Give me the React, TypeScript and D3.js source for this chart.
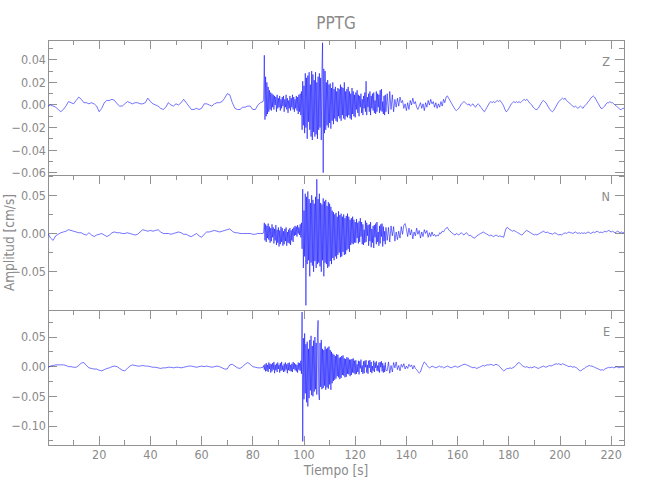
import React from 'react';
import * as d3 from 'd3';

// Amplitudes in units of 0.001 cm/s
const UNIT = 0.001;

// sampling of the three segments (seconds)
const PRE_START = 0, PRE_STEP = 1;
const EVT_START = 84.25, EVT_STEP = 0.25;
const CODA_START = 132.5, CODA_STEP = 0.5;

const zPre = [
  -1, 0, -1, -2, -4, -6, -4, -1, 3, 2,
  1, 4, 7, 5, 2, 2, 1, 2, 1, -1,
  -6, -3, 2, 4, 4, 5, 4, 1, -1, -1,
  1, 3, 2, 1, 2, 2, 1, 1, 2, 6,
  3, 1, 0, -1, -3, -4, -2, 2, 0, -1,
  1, 0, 2, 5, 2, -1, -4, -4, -3, -4,
  -3, 1, 1, 0, -1, 1, 2, 2, 3, 6,
  10, 9, 2, -3, -4, -4, -2, -2, -1, -1,
  -4, -4, 0, 2, 3,
];
const zEvt = [
  5, 44, -13, 25, -10, 20, -8, 16, -6, 13, -4, 11, -5, 10, -2, 9,
  -4, 8, 0, 7, -6, 9, -3, 6, -2, 8, -5, 5, -3, 7, -1, 8,
  -6, 5, -2, 9, -4, 6, -7, 4, -3, 8, -5, 6, -2, 9, -4, 7,
  -6, 5, -3, 8, -5, 7, -8, 9, -6, 10, -9, 12, -22, 21, -18, 17,
  -25, 28, -20, 24, -30, 26, -15, 29, -22, 18, -28, 30, -31, 27, -24, 22,
  -28, 29, -26, 20, -30, 25, -22, 28, -20, 24, -31, 30, 55, -60, 32, -25,
  30, -22, 20, -18, 22, -20, 18, -16, 19, -21, 15, -14, 20, -17, 14, -12,
  16, -14, 12, -15, 15, -10, 14, -12, 18, -14, 16, -9, 15, -12, 20, -13,
  12, -10, 14, -11, 16, -9, 12, -12, 10, -13, 15, -8, 12, -10, 9, -11,
  11, -4, 13, -7, 9, -10, 8, -2, 10, -7, 5, -9, 8, -3, 11, -6,
  21, -9, 7, -2, 10, -6, 12, -9, 8, -3, 10, -5, 11, -7, 4, -8,
  12, -6, 10, -2, 9, -7, 13, -5, 14, -6, 3, -8, 8, -9, 9, -6,
];
const zCoda = [
  10, -8, 12, -4, 9, -6, 5, -2,
  6, -1, 7, 2, 4, -3, 1, -5,
  2, -4, 4, 0, 6, 1, 3, -2,
  -4, -1, 2, -3, 1, -5, 2, -2,
  4, 0, 5, 1, 3, -2, 2, -3,
  1, -2, 3, -1, 5, 2, 7, 8,
  6, 4, 2, 0, -2, -4, -5, -4,
  -3, -1, 1, 2, 3, 2, 1, 0,
  1, -1, 0, 1, -1, -2, 0, 1,
  0, -2, -3, -5, -6, -4, -2, 0,
  2, 3, 2, 3, 2, 3, 4, 3,
  4, 3, 1, -1, -4, -6, -5, -3,
  -1, 1, 2, 3, 2, 3, 2, 3,
  2, 3, 4, 5, 4, 5, 4, 2,
  1, 0, -2, -3, -4, -4, -3, -1,
  1, 3, 4, 3, 2, 0, -2, -4,
  -5, -6, -5, -3, -1, 1, 3, 4,
  5, 6, 5, 6, 4, 3, 2, 1,
  0, -1, -2, -1, -2, -3, -2, -1,
  -2, -3, -1, 0, 1, 3, 4, 6,
  7, 8, 7, 5, 3, 1, -1, -3,
  -3, -2, -1, 1, 2, 2, 3, 2,
  2, 1, 0, -1, -2, -3, -4, -4,
  -3, -3,
];

const nPre = [
  0, -6, -9, -3, -1, 1, 2, 3, 5, 4,
  3, 2, 1, 1, -1, -2, 1, -2, -4, -2,
  -1, 0, -2, -4, -2, 1, 2, 1, 1, 0,
  0, 1, 0, -1, -2, -1, 2, 5, 4, 3,
  4, 3, 4, 5, 2, 0, 0, 0, -1, 0,
  1, 2, 1, -1, -1, -3, -4, -2, 0, -3,
  -5, -1, 2, 2, 3, 4, 3, 2, 3, 4,
  5, 6, 3, 1, 1, 0, 0, 0, 0, 0,
  -1, -1, 0, 0, 0,
];
const nEvt = [
  2, 14, -9, 12, -11, 10, -6, 13, -8, 9, -12, 7, -10, 12, -5, 8,
  -13, 6, -9, 11, -15, 5, -12, 8, -17, 4, -14, 9, -11, 7, -16, 3,
  -14, 6, -10, 8, -16, 2, -12, 5, -13, 7, -15, 4, -9, 6, -11, 8,
  -3, 10, -2, 9, -4, 11, 0, 8, -2, 12, -5, 14, -20, 58, -45, 30,
  -30, 52, -94, 48, -40, 55, -35, 45, -56, 40, -38, 50, -42, 44, -50, 39,
  -36, 48, -45, 71, -40, 45, -38, 52, -43, 40, -50, 38, -35, 46, -56, 42,
  -38, 44, -40, 36, -45, 41, -43, 39, -36, 35, -40, 30, -32, 28, -35, 25,
  -30, 27, -33, 22, -28, 29, -25, 24, -31, 26, -30, 22, -24, 25, -28, 20,
  -27, 23, -22, 26, -20, 22, -24, 18, -15, 20, -13, 22, -14, 18, -12, 15,
  -12, 19, -6, 14, -13, 16, -11, 20, -4, 15, -14, 12, -15, 5, -12, 17,
  -11, 14, -3, 11, -16, 12, -10, 15, -18, 6, -12, 10, -19, 11, -5, 13,
  -14, 15, -11, 2, -16, 10, -13, 12, -4, 13, -17, 9, -10, 3, -14, 8,
];
const nCoda = [
  -9, 8, -11, 10, -3, 9, -10, 2,
  -8, 3, -6, 9, -1, 11, 13, 6,
  -4, 7, -2, 5, -7, 2, -3, 7,
  -1, 4, -6, 2, -4, 5, 0, 4,
  -5, 1, -4, 2, -3, -1, -4, -2,
  -3, 1, 0, 3, 2, 5, 7, 8,
  5, 3, 2, 0, -1, -2, 0, -1,
  -2, 0, 1, -1, -2, 0, 1, -1,
  -3, -2, -4, -5, -6, -5, -3, -2,
  -1, 0, 1, 2, 1, 0, -1, -2,
  -3, -2, -3, -4, -3, -2, -3, -4,
  -3, -4, -4, -5, 2, 7, 8, 6,
  5, 4, 3, 4, 3, 2, 1, 0,
  -1, -2, -1, 1, 3, 4, 3, 2,
  1, 0, -1, -2, -1, -2, -1, 0,
  1, 2, 3, 2, 1, 2, 1, 0,
  0, -1, 0, 1, 0, -1, -2, -1,
  -2, -1, 0, 1, 0, 1, 2, 1,
  1, 0, 1, 2, 1, 0, 1, 0,
  1, 0, 1, 0, 1, 2, 1, 0,
  1, 2, 1, 2, 3, 2, 1, 2,
  1, 2, 3, 2, 3, 4, 3, 2,
  3, 2, 1, 2, 3, 2, 1, 2,
  1, 1,
];

const ePre = [
  -1, 1, 2, 3, 3, 3, 3, 2, 0, 0,
  -1, -1, 2, 6, 7, 2, -2, -3, -4, -4,
  -6, -7, -5, -3, -2, 0, 1, 0, -3, -6,
  -7, -3, 1, 3, 2, 1, 1, 2, 1, 1,
  0, -1, -1, -2, -3, -2, -2, -1, -1, -2,
  -1, -1, -2, -1, 0, 1, 1, 0, -1, 0,
  1, 0, 1, 0, -1, 0, 1, 0, -2, -4,
  -4, 3, 4, 1, -2, -3, 0, 4, 7, 4,
  0, -1, -2, -2, -1,
];
const eEvt = [
  2, -5, 4, -8, 6, -7, 3, -9, 7, -4, 5, -10, 4, -8, 6, -5,
  8, -11, 3, -6, 5, -9, 7, -4, 3, -10, 6, -7, 8, -6, 2, -9,
  5, -8, 7, -5, 4, -11, 6, -6, 7, -7, 3, -8, 5, -9, 8, -4,
  6, -6, 4, -8, 3, -10, 7, -5, 6, -7, 10, -12, 92, -126, 48, -55,
  56, -45, 38, -60, 42, -67, 30, -53, 45, -40, 52, -48, 35, -50, 44, -42,
  50, -38, 40, -47, 55, 78, -44, -56, 40, -34, 45, -38, 30, -36, 28, -32,
  34, -39, 30, -35, 32, -37, 34, -30, 28, -39, 25, -28, 22, -24, 20, -22,
  18, -20, 21, -16, 20, -18, 15, -21, 16, -19, 18, -14, 19, -15, 14, -18,
  13, -17, 16, -12, 15, -13, 12, -16, 12, -14, 13, -10, 14, -11, 10, -13,
  11, -12, 4, -9, 10, -13, 9, -3, 12, -9, 2, -12, 9, -11, 10, -1,
  11, -10, 3, -12, 10, -2, 11, -9, 8, -11, 1, -7, 10, -9, 7, -2,
  9, -7, 2, -8, 7, -10, 8, -1, 9, -8, 6, -10, 2, -9, 7, -6,
];
const eCoda = [
  -7, 8, -11, 2, -9, 7, -2, 8,
  -5, 2, -7, 4, -1, 5, -4, 1,
  -3, 4, 0, 3, -4, 2, -3, -5,
  -8, -11, -9, -2, 4, 8, 6, 2,
  0, -2, -1, 1, 0, -1, -2, -1,
  0, 1, -1, 0, -2, -1, 0, 1,
  0, -1, -2, -1, 0, 1, 0, -1,
  0, 1, 2, 3, 4, 4, 3, 2,
  1, 0, -1, -2, -1, -2, -3, -2,
  -1, 0, 1, 2, 1, 2, 3, 3,
  3, 4, 3, 2, 3, 4, 3, 2,
  0, -3, -5, -7, -6, -4, -3, -3,
  -2, -3, -2, -1, 1, 3, 6, 7,
  5, 3, 1, 0, -1, 0, -1, -2,
  -1, -2, -1, 0, -1, -2, -3, -2,
  -1, 0, 1, 0, -1, 0, 1, 2,
  1, 2, 3, 4, 5, 4, 5, 4,
  3, 5, 4, 3, 2, 1, 0, 1,
  0, -1, 0, -1, -2, -4, -6, -7,
  -6, -4, -3, -1, 0, 1, 2, 1,
  1, 0, -1, -2, -3, -4, -5, -6,
  -5, -6, -4, -3, -2, -1, -2, -1,
  -1, -2, -1, 0, -1, -2, -1, -1,
  -1, -1,
];

// axis ranges and ticks (cm/s)
const X_DOMAIN = [0, 225];
const X_TICKS = [10, 20, 30, 40, 50, 60, 70, 80, 90, 100, 110, 120, 130, 140, 150, 160, 170, 180, 190, 200, 210, 220];
const X_LABELS = [20, 40, 60, 80, 100, 120, 140, 160, 180, 200, 220];

const zDomain = [-0.062, 0.0575];
const zMajor = [-0.06, -0.04, -0.02, 0, 0.02, 0.04];
const zMinor = [-0.05, -0.03, -0.01, 0.01, 0.03, 0.05];
const nDomain = [-0.1, 0.0765];
const nMajor = [-0.05, 0, 0.05];
const nMinor = [-0.075, -0.025, 0.025, 0.075];
const eDomain = [-0.132, 0.0955];
const eMajor = [-0.1, -0.05, 0, 0.05];
const eMinor = [-0.125, -0.075, -0.025, 0.025, 0.075];

const TITLE = 'PPTG';
const Y_TITLE = 'Amplitud [cm/s]';
const X_TITLE = 'Tiempo [s]';

function build(pre: number[], evt: number[], coda: number[]): [number, number][] {
  const out: [number, number][] = [];
  pre.forEach((v, i) => out.push([PRE_START + i * PRE_STEP, v * UNIT]));
  evt.forEach((v, i) => out.push([EVT_START + i * EVT_STEP, v * UNIT]));
  coda.forEach((v, i) => out.push([CODA_START + i * CODA_STEP, v * UNIT]));
  return out;
}

const FONT = "'Liberation Sans Narrow', 'DejaVu Sans Condensed', 'Arial Narrow', sans-serif";
const TEXT = '#8a8a8a';
const AXIS = '#929292';
const LEFT = 48, RIGHT = 624, TOP = 40, PH = 135;

const x = d3.scaleLinear().domain(X_DOMAIN).range([LEFT, RIGHT]);
const fmt = d3.format('.2f');

type PanelProps = {
  idx: number;
  data: [number, number][];
  domain: number[];
  major: number[];
  minor: number[];
  label: string;
  last: boolean;
};

function Panel({ idx, data, domain, major, minor, label, last }: PanelProps) {
  const top = TOP + idx * PH;
  const y = d3.scaleLinear().domain(domain).range([top + PH, top]);
  const line = d3.line<[number, number]>().x(d => x(d[0])).y(d => y(d[1]));
  const cid = `clip${idx}`;
  return (
    <g>
      <clipPath id={cid}>
        <rect x={LEFT} y={top} width={RIGHT - LEFT} height={PH} />
      </clipPath>
      <rect x={LEFT} y={top} width={RIGHT - LEFT} height={PH} fill="none" stroke={AXIS} strokeWidth={1} shapeRendering="crispEdges" />
      {major.map(v => (
        <g key={'M' + v}>
          <line x1={LEFT} x2={LEFT + 9} y1={y(v)} y2={y(v)} stroke={AXIS} shapeRendering="crispEdges" />
          <line x1={RIGHT - 9} x2={RIGHT} y1={y(v)} y2={y(v)} stroke={AXIS} shapeRendering="crispEdges" />
          <text x={LEFT - 2} y={y(v)} dy="0.35em" textAnchor="end" fontFamily={FONT} fontSize={12.5} fill={TEXT}>{fmt(v)}</text>
        </g>
      ))}
      {minor.map(v => (
        <g key={'m' + v}>
          <line x1={LEFT} x2={LEFT + 5} y1={y(v)} y2={y(v)} stroke={AXIS} shapeRendering="crispEdges" />
          <line x1={RIGHT - 5} x2={RIGHT} y1={y(v)} y2={y(v)} stroke={AXIS} shapeRendering="crispEdges" />
        </g>
      ))}
      {X_TICKS.map(t => {
        const len = t % 20 === 0 ? 9 : 5;
        return (
          <g key={'x' + t}>
            <line x1={x(t)} x2={x(t)} y1={top} y2={top + len} stroke={AXIS} shapeRendering="crispEdges" />
            {last && <line x1={x(t)} x2={x(t)} y1={top + PH} y2={top + PH - len} stroke={AXIS} shapeRendering="crispEdges" />}
          </g>
        );
      })}
      <path d={line(data) || ''} fill="none" stroke="#0000ff" strokeWidth={0.55} clipPath={`url(#${cid})`} strokeLinejoin="round" />
      {last && X_LABELS.map(t => (
        <text key={'xl' + t} x={x(t)} y={top + PH + 14} textAnchor="middle" fontFamily={FONT} fontSize={12.5} fill={TEXT}>{t}</text>
      ))}
      <text x={610} y={top + 26} textAnchor="end" fontFamily={FONT} fontSize={12.5} fill={TEXT}>{label}</text>
    </g>
  );
}

export default function App() {
  const zData = build(zPre, zEvt, zCoda);
  const nData = build(nPre, nEvt, nCoda);
  const eData = build(ePre, eEvt, eCoda);
  return (
    <svg width={650} height={500} style={{ position: 'absolute', left: 0, top: 0, background: '#fff' }}>
      <rect x={0} y={0} width={650} height={500} fill="#fff" />
      <text x={(LEFT + RIGHT) / 2} y={29} textAnchor="middle" fontFamily={FONT} fontSize={17} fill={TEXT}>{TITLE}</text>
      <Panel idx={0} data={zData} domain={zDomain} major={zMajor} minor={zMinor} label="Z" last={false} />
      <Panel idx={1} data={nData} domain={nDomain} major={nMajor} minor={nMinor} label="N" last={false} />
      <Panel idx={2} data={eData} domain={eDomain} major={eMajor} minor={eMinor} label="E" last={true} />
      <text transform={`translate(14, ${TOP + PH * 1.5}) rotate(-90)`} textAnchor="middle" fontFamily={FONT} fontSize={13.5} fill={TEXT}>{Y_TITLE}</text>
      <text x={(LEFT + RIGHT) / 2} y={475} textAnchor="middle" fontFamily={FONT} fontSize={13.5} fill={TEXT}>{X_TITLE}</text>
    </svg>
  );
}
